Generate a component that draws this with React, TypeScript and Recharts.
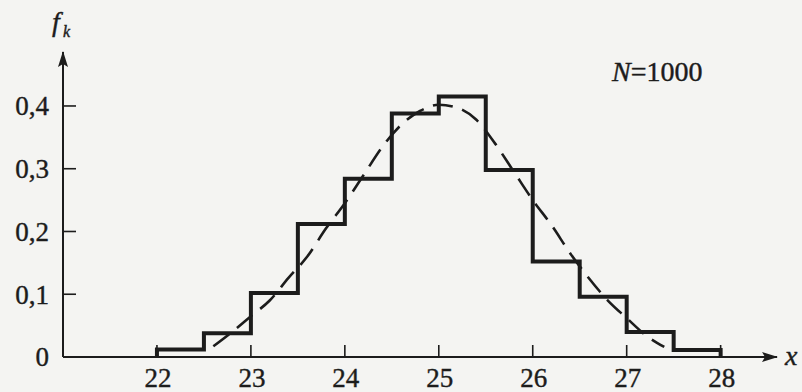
import { ComposedChart, Line, XAxis, YAxis } from 'recharts'

// histogram bins (width 0.5) and relative frequencies f_k
const binEdges = [22, 22.5, 23, 23.5, 24, 24.5, 25, 25.5, 26, 26.5, 27, 27.5, 28]
const freqs = [0.012, 0.038, 0.102, 0.212, 0.284, 0.388, 0.415, 0.298, 0.152, 0.096, 0.04, 0.011]

// dashed theoretical curve
const curveX = [22.6, 22.8, 23.0, 23.2, 23.4, 23.6, 23.8, 24.0, 24.2, 24.4, 24.6, 24.8, 25.0, 25.2, 25.4, 25.6, 25.8, 26.0, 26.2, 26.4, 26.6, 26.8, 27.0, 27.2, 27.4]
const curveF = [0.017, 0.04, 0.065, 0.09, 0.126, 0.16, 0.205, 0.245, 0.29, 0.335, 0.37, 0.392, 0.402, 0.397, 0.378, 0.34, 0.295, 0.25, 0.21, 0.165, 0.125, 0.09, 0.062, 0.035, 0.016]

const xTicks = [22, 23, 24, 25, 26, 27, 28]
const yTicks = [0, 0.1, 0.2, 0.3, 0.4]

const INK = '#1c1c1c'
const FONT = '"Liberation Serif", "DejaVu Serif", serif'

const stepData = [
  { x: binEdges[0], f: 0 },
  ...freqs.map((f, i) => ({ x: binEdges[i], f })),
  { x: binEdges[binEdges.length - 1], f: 0 },
]
const curveData = curveX.map((x, i) => ({ x, f: curveF[i] }))

function XTick(props: any) {
  const { x, y, payload } = props
  return (
    <g>
      <line x1={x} y1={y - 12} x2={x} y2={y} stroke={INK} strokeWidth={1.6} />
      <text x={x + 1} y={y + 30} textAnchor="middle" fontSize={27} fontFamily={FONT} fill={INK} stroke={INK} strokeWidth={0.4}>
        {payload.value}
      </text>
    </g>
  )
}

function YTick(props: any) {
  const { x, y, payload } = props
  const v = payload.value
  const label = v === 0 ? '0' : v.toFixed(1).replace('.', ',')
  return (
    <g>
      {v !== 0 && <line x1={x} y1={y} x2={x + 13} y2={y} stroke={INK} strokeWidth={1.6} />}
      <text x={x - 14} y={y} dy="0.35em" textAnchor="end" fontSize={27} fontFamily={FONT} fill={INK} stroke={INK} strokeWidth={0.4}>
        {label}
      </text>
    </g>
  )
}

const overlayText = { position: 'absolute' as const, WebkitTextStroke: '0.4px #1c1c1c' }

export default function App() {
  return (
    <div style={{ position: 'absolute', left: 0, top: 0, width: 802, height: 392, background: '#f4f4f2', fontFamily: FONT, color: INK }}>
      <ComposedChart width={802} height={392} margin={{ top: 52, right: 25, left: 0, bottom: 0 }}>
        <defs>
          <marker id="arrow" viewBox="0 0 16 10" refX="15" refY="5" markerWidth="16" markerHeight="10" markerUnits="userSpaceOnUse" orient="auto-start-reverse">
            <path d="M0,0 L16,5 L0,10 L3,5 Z" fill={INK} />
          </marker>
        </defs>
        <XAxis
          type="number"
          dataKey="x"
          domain={[21, 28.6]}
          ticks={xTicks}
          allowDataOverflow
          height={35}
          tickSize={0}
          tickMargin={0}
          tickLine={false}
          axisLine={{ stroke: INK, strokeWidth: 2, markerEnd: 'url(#arrow)' }}
          tick={<XTick />}
        />
        <YAxis
          type="number"
          dataKey="f"
          domain={[0, 0.486]}
          ticks={yTicks}
          allowDataOverflow
          width={63}
          tickSize={0}
          tickMargin={0}
          tickLine={false}
          axisLine={{ stroke: INK, strokeWidth: 2, markerStart: 'url(#arrow)' }}
          tick={<YTick />}
        />
        <Line
          data={curveData}
          dataKey="f"
          type="monotone"
          stroke={INK}
          strokeWidth={2.6}
          strokeDasharray="20 10"
          dot={false}
          activeDot={false}
          isAnimationActive={false}
        />
        <Line
          data={stepData}
          dataKey="f"
          type="stepAfter"
          stroke={INK}
          strokeWidth={4}
          strokeLinejoin="miter"
          dot={false}
          activeDot={false}
          isAnimationActive={false}
        />
      </ComposedChart>
      <div style={{ ...overlayText, left: 52, top: 8, fontSize: 28, lineHeight: '28px', fontStyle: 'italic' }}>f</div>
      <div style={{ ...overlayText, left: 63, top: 24, fontSize: 16, lineHeight: '16px', fontStyle: 'italic' }}>k</div>
      <div style={{ ...overlayText, left: 785, top: 342, fontSize: 28, lineHeight: '28px', fontStyle: 'italic' }}>x</div>
      <div style={{ ...overlayText, left: 612, top: 58, fontSize: 28, lineHeight: '28px', whiteSpace: 'nowrap' }}>
        <span style={{ fontStyle: 'italic' }}>N</span>=1000
      </div>
    </div>
  )
}
